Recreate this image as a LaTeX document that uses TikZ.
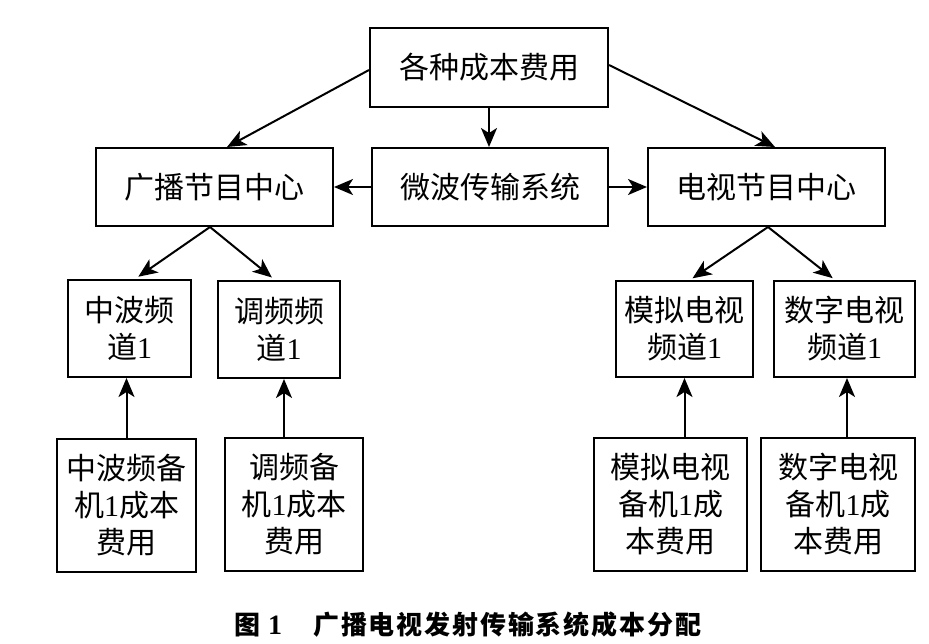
\documentclass[tikz,border=0pt]{standalone}
\usepackage{fontspec}
\setmainfont{Liberation Serif}
\newfontfamily\cjk{Noto Sans CJK SC}
\newfontfamily\lser{Liberation Serif}
\usetikzlibrary{arrows.meta,calc}
\newcommand{\dig}[1]{{\lser #1}}
\begin{document}
\begin{tikzpicture}[x=1pt,y=-1pt,
  box/.style={draw,line width=2pt,inner sep=0pt,align=center,
    font=\cjk\fontsize{30}{37}\selectfont},
  arr/.style={line width=2pt,-{Stealth[length=19pt,width=16pt,inset=5pt]}}]
\useasboundingbox (0,0) rectangle (929,643);
\node[box,minimum width=238pt,minimum height=79pt] (top) at (489,67.5) {各种成本费用};
\node[box,minimum width=237pt,minimum height=78pt] (gb) at (214.5,187) {广播节目中心};
\node[box,minimum width=236pt,minimum height=78pt] (wb) at (490,187) {微波传输系统};
\node[box,minimum width=237pt,minimum height=78pt] (ds) at (766.5,187) {电视节目中心};
\node[box,minimum width=123pt,minimum height=97pt] (zb) at (129.5,328.5) {中波频\\道\dig{1}};
\node[box,minimum width=122pt,minimum height=97pt] (tp) at (279,329.5) {调频频\\道\dig{1}};
\node[box,minimum width=137pt,minimum height=96pt] (mn) at (684.5,329) {模拟电视\\频道\dig{1}};
\node[box,minimum width=141pt,minimum height=96pt] (sz) at (844.5,329) {数字电视\\频道\dig{1}};
\node[box,minimum width=139pt,minimum height=133pt] (zbb) at (126.5,505.5) {中波频备\\机\dig{1}成本\\费用};
\node[box,minimum width=138pt,minimum height=133pt] (tpb) at (294,504.5) {调频备\\机\dig{1}成本\\费用};
\node[box,minimum width=153pt,minimum height=133pt] (mnb) at (670.5,504.5) {模拟电视\\备机\dig{1}成\\本费用};
\node[box,minimum width=154pt,minimum height=133pt] (szb) at (838,504.5) {数字电视\\备机\dig{1}成\\本费用};
% top level arrows
\draw[arr] ([yshift=-2.5pt]top.west) -- ([xshift=12.5pt]gb.north);
\draw[arr] ([yshift=2.5pt]top.east) -- ([xshift=8.5pt]ds.north);
\draw[arr] (top.south) -- (top.south |- wb.north);
\draw[arr] (wb.west) -- (gb.east);
\draw[arr] (wb.east) -- (ds.west);
% second level
\draw[arr,shorten >=4pt] ([xshift=-4.5pt]gb.south) -- ([xshift=5.5pt]zb.north);
\draw[arr,shorten >=4pt] ([xshift=-4.5pt]gb.south) -- ([xshift=-4pt]tp.north);
\draw[arr,shorten >=3pt] ([xshift=1.5pt]ds.south) -- ([xshift=5.5pt]mn.north);
\draw[arr,shorten >=3pt] ([xshift=1.5pt]ds.south) -- ([xshift=-9.5pt]sz.north);
% backup arrows
\draw[arr] (zbb.north) -- (zbb.north |- zb.south);
\draw[arr] ([xshift=-10pt]tpb.north) -- ([xshift=-10pt]tpb.north |- tp.south);
\draw[arr] (mnb.north -| mn.south) -- (mn.south);
\draw[arr] ([xshift=2.5pt]sz.south |- szb.north) -- ([xshift=2.5pt]sz.south);
% caption
\node[inner sep=0pt,anchor=west] (cap1) at (234,625) {\cjk\bfseries\fontsize{26}{26}\selectfont 图\hspace{8pt}\lser\bfseries\fontsize{28}{28}\selectfont 1};
\node[inner sep=0pt,anchor=west] (cap2) at (313,625) {\makebox[388pt][s]{\cjk\bfseries\fontsize{26}{26}\selectfont 广\hfill 播\hfill 电\hfill 视\hfill 发\hfill 射\hfill 传\hfill 输\hfill 系\hfill 统\hfill 成\hfill 本\hfill 分\hfill 配}};
\end{tikzpicture}
\end{document}
